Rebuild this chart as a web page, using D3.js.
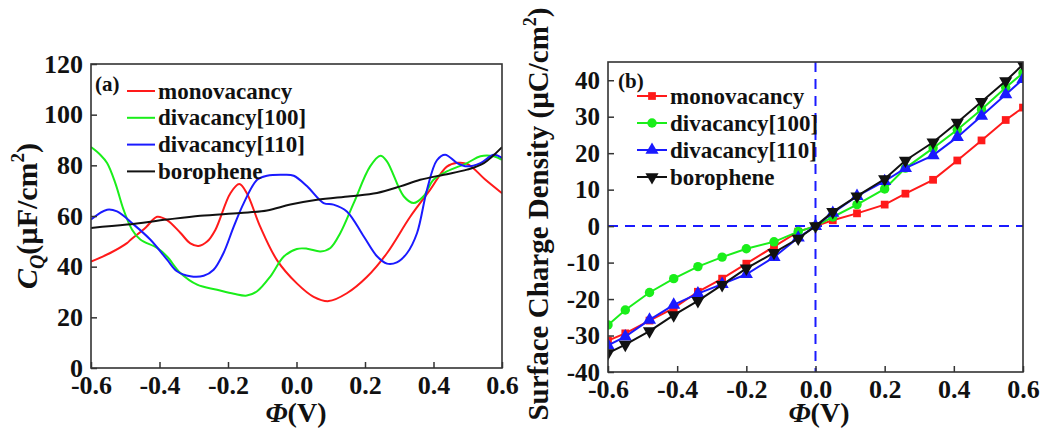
<!DOCTYPE html>
<html>
<head>
<meta charset="utf-8">
<script src="https://cdn.jsdelivr.net/npm/d3@7"></script>
<style>
  body { margin: 0; background: #fff; }
  text { font-family: "Liberation Serif", "Times New Roman", serif; font-weight: bold; fill: #111; }
</style>
</head>
<body>
<div id="chart"></div>
<script>
// Define SVG area dimensions
var svgWidth = 1047;
var svgHeight = 429;

// ---- data: panel (a) quantum capacitance ----
var seriesNames = ["monovacancy", "divacancy[100]", "divacancy[110]", "borophene"];
var seriesColors = ["#ff1a1a", "#1aee1a", "#1a1aff", "#111111"];

var monoA = [[-0.6,42],[-0.544,45.4],[-0.495,49.3],[-0.485,50.5],[-0.44,55.5],[-0.407,59.7],[-0.378,58.4],[-0.34,53.5],[-0.31,49.2],[-0.286,48.2],[-0.261,49.9],[-0.237,54.5],[-0.193,69],[-0.167,72.6],[-0.145,69],[-0.106,55.8],[-0.057,42.6],[0.001,33.4],[0.05,28.1],[0.094,26.4],[0.147,29.5],[0.206,36],[0.264,45.3],[0.332,59.7],[0.39,70.3],[0.439,79.5],[0.47,81],[0.5,80.5],[0.55,74.5],[0.6,69]];
var di100A = [[-0.6,87.2],[-0.573,84.2],[-0.553,80.9],[-0.529,73],[-0.505,62.5],[-0.48,54.6],[-0.456,50.7],[-0.407,47.4],[-0.378,44],[-0.339,37.5],[-0.29,32.9],[-0.232,30.9],[-0.183,29.3],[-0.145,28.6],[-0.115,30.3],[-0.076,36.2],[-0.037,44],[0.001,47],[0.031,47.1],[0.07,46],[0.099,47.4],[0.128,53.3],[0.167,65.1],[0.215,79.6],[0.245,83.8],[0.264,81.6],[0.313,67.8],[0.342,65.1],[0.371,67.8],[0.4,74.3],[0.439,77.6],[0.498,80.9],[0.537,83.6],[0.576,83.6],[0.6,82.2]];
var di110A = [[-0.6,58.6],[-0.553,62.5],[-0.524,61.8],[-0.475,56.6],[-0.427,50.7],[-0.378,42.8],[-0.349,38.2],[-0.31,36.2],[-0.271,36.4],[-0.242,38.8],[-0.213,45.4],[-0.183,55.9],[-0.154,65.1],[-0.115,74.3],[-0.086,75.9],[-0.037,76.3],[-0.008,75.9],[0.031,71.7],[0.079,65.1],[0.108,64.5],[0.147,61.8],[0.196,52],[0.235,44.1],[0.264,41.2],[0.293,41.7],[0.323,45.4],[0.352,53.3],[0.381,70.4],[0.41,82],[0.434,84.2],[0.469,80.9],[0.498,79.6],[0.537,80.9],[0.576,84.2],[0.6,82.9]];
var boroA = [[-0.6,55.3],[-0.495,56.6],[-0.378,58.6],[-0.281,60.1],[-0.164,61.2],[-0.086,62.2],[-0.018,64.5],[0.06,66.4],[0.157,67.8],[0.235,69.1],[0.303,71.7],[0.361,74.3],[0.43,76.3],[0.498,78.3],[0.547,80.9],[0.6,87.2]];

// ---- data: panel (b) surface charge density ----
var phiB = [-0.6,-0.55,-0.48,-0.41,-0.34,-0.27,-0.2,-0.12,-0.05,0,0.05,0.12,0.2,0.26,0.34,0.41,0.48,0.55,0.6];
var monoB = [-31.4,-29.4,-25.9,-22.5,-18,-14.4,-10.3,-5.6,-1.5,0,1.6,3.5,5.9,8.9,12.7,18,23.5,29.1,32.5];
var di100B = [-27.1,-23,-18.2,-14.4,-11.1,-8.5,-6.2,-4.3,-1.5,0,2.5,5.9,10.2,15.9,21.4,26.4,32,38,42];
var di110B = [-32.7,-30.3,-25.7,-21.6,-18.5,-15.9,-13.2,-8.5,-3.2,0,3.6,8.2,12.3,15.9,19.4,24.4,30.2,36.1,40.3];
var boroB = [-34.8,-32.5,-28.8,-24.4,-20.5,-16.1,-11.6,-7.3,-3.4,0,3.9,8.2,12.9,18,23,28.4,34.1,39.8,44.3];

// tick values
var xTicks = [-0.6,-0.4,-0.2,0,0.2,0.4,0.6];
var yTicksA = [0,20,40,60,80,100,120];
var yTicksB = [-40,-30,-20,-10,0,10,20,30,40];

var svg = d3.select("#chart")
  .append("svg")
  .attr("width", svgWidth)
  .attr("height", svgHeight)
  .style("background", "#fff");

var fmtX = d => d.toFixed(1);
var fmtY = d => String(d);

// frame + axes helper
function drawAxes(x, y, yTicks, ySize) {
  var x0 = x.range()[0], x1 = x.range()[1];
  var y0 = y.range()[0], y1 = y.range()[1];

  var gx = svg.append("g")
    .attr("transform", `translate(0, ${y0})`)
    .call(d3.axisBottom(x).tickValues(xTicks).tickFormat(fmtX).tickSizeInner(-6).tickSizeOuter(0).tickPadding(8));
  var gy = svg.append("g")
    .attr("transform", `translate(${x0}, 0)`)
    .call(d3.axisLeft(y).tickValues(yTicks).tickFormat(fmtY).tickSizeInner(-6).tickSizeOuter(0).tickPadding(8));

  [gx, gy].forEach(function(g) {
    g.select(".domain").remove();
    g.selectAll(".tick line").attr("stroke", "#333").attr("stroke-width", 1.5);
    g.selectAll(".tick text")
      .attr("font-family", "Liberation Serif, Times New Roman, serif")
      .attr("font-weight", "bold")
      .attr("fill", "#111");
  });
  gx.selectAll(".tick text").attr("font-size", 26).attr("dy", "0.71em");
  gy.selectAll(".tick text").attr("font-size", ySize);

  svg.append("rect")
    .attr("x", x0).attr("y", y1)
    .attr("width", x1 - x0).attr("height", y0 - y1)
    .attr("fill", "none").attr("stroke", "#333").attr("stroke-width", 1.6);
}

function phiTitle(cx, ty) {
  var t = svg.append("text")
    .attr("x", cx).attr("y", ty)
    .attr("text-anchor", "middle")
    .attr("font-size", 28);
  t.append("tspan").attr("font-style", "italic").text("Φ");
  t.append("tspan").text("(V)");
}

// ===== panel (a) =====
var xA = d3.scaleLinear().domain([-0.6, 0.6]).range([91, 502]);
var yA = d3.scaleLinear().domain([0, 120]).range([368, 64]);

svg.append("clipPath").attr("id", "clipA")
  .append("rect").attr("x", 91).attr("y", 64).attr("width", 411).attr("height", 304);

var lineA = d3.line()
  .x(d => xA(d[0]))
  .y(d => yA(d[1]))
  .curve(d3.curveCatmullRom.alpha(0.5));

[monoA, di100A, di110A, boroA].forEach(function(data, i) {
  svg.append("path")
    .datum(data)
    .attr("clip-path", "url(#clipA)")
    .attr("fill", "none")
    .attr("stroke", seriesColors[i])
    .attr("stroke-width", 2)
    .attr("d", lineA);
});

drawAxes(xA, yA, yTicksA, 26);
phiTitle(296, 422);

// y title (a)
var ytA = svg.append("text")
  .attr("transform", "translate(37, 216) rotate(-90)")
  .attr("text-anchor", "middle")
  .attr("font-size", 30);
ytA.append("tspan").attr("font-style", "italic").text("C");
ytA.append("tspan").attr("font-style", "italic").attr("font-size", 20).attr("dy", 7).text("Q");
ytA.append("tspan").attr("dy", -7).text("(µF/cm");
ytA.append("tspan").attr("font-size", 19).attr("dy", -13).text("2");
ytA.append("tspan").attr("dy", 13).text(")");

// legend (a)
svg.append("text").attr("x", 95).attr("y", 91).attr("font-size", 21).text("(a)");
seriesNames.forEach(function(name, i) {
  var ly = 91 + i * 26.8;
  svg.append("line")
    .attr("x1", 127).attr("x2", 155).attr("y1", ly).attr("y2", ly)
    .attr("stroke", seriesColors[i]).attr("stroke-width", 2);
  svg.append("text")
    .attr("x", 158).attr("y", ly).attr("dy", "0.33em")
    .attr("font-size", 23).text(name);
});

// ===== panel (b) =====
var xB = d3.scaleLinear().domain([-0.6, 0.6]).range([608, 1023]);
var yB = d3.scaleLinear().domain([-40, 45]).range([372, 62]);

// dashed reference lines
svg.append("line")
  .attr("x1", xB(0)).attr("x2", xB(0)).attr("y1", yB(45)).attr("y2", yB(-40))
  .attr("stroke", "#1a1aff").attr("stroke-width", 2).attr("stroke-dasharray", "10,7");
svg.append("line")
  .attr("x1", xB(-0.6)).attr("x2", xB(0.6)).attr("y1", yB(0)).attr("y2", yB(0))
  .attr("stroke", "#1a1aff").attr("stroke-width", 2).attr("stroke-dasharray", "10,7");

var symbols = [d3.symbolSquare, d3.symbolCircle, d3.symbolTriangle, d3.symbolTriangle];
var symSizes = [60, 70, 75, 75];
var symRot = [0, 0, 0, 180];

function marker(g, i, cx, cy) {
  g.append("path")
    .attr("d", d3.symbol().type(symbols[i]).size(symSizes[i])())
    .attr("transform", `translate(${cx}, ${cy}) rotate(${symRot[i]})`)
    .attr("fill", seriesColors[i]);
}

var lineB = d3.line()
  .x(d => xB(d[0]))
  .y(d => yB(d[1]));

svg.append("clipPath").attr("id", "clipB")
  .append("rect").attr("x", 608).attr("y", 62).attr("width", 415).attr("height", 310);

[monoB, di100B, di110B, boroB].forEach(function(vals, i) {
  var pts = phiB.map((p, j) => [p, vals[j]]);
  var g = svg.append("g").attr("clip-path", "url(#clipB)");
  g.append("path")
    .datum(pts)
    .attr("fill", "none")
    .attr("stroke", seriesColors[i])
    .attr("stroke-width", 2)
    .attr("d", lineB);
  pts.forEach(function(d) { marker(g, i, xB(d[0]), yB(d[1])); });
});

drawAxes(xB, yB, yTicksB, 25);
phiTitle(819, 422);

// y title (b)
var ytB = svg.append("text")
  .attr("transform", "translate(548, 214) rotate(-90)")
  .attr("text-anchor", "middle")
  .attr("font-size", 29);
ytB.append("tspan").text("Surface Charge Density (µC/cm");
ytB.append("tspan").attr("font-size", 18).attr("dy", -12).text("2");
ytB.append("tspan").attr("dy", 12).text(")");

// legend (b)
svg.append("text").attr("x", 618).attr("y", 88).attr("font-size", 21).text("(b)");
seriesNames.forEach(function(name, i) {
  var ly = 96 + i * 27;
  svg.append("line")
    .attr("x1", 637).attr("x2", 667).attr("y1", ly).attr("y2", ly)
    .attr("stroke", seriesColors[i]).attr("stroke-width", 2);
  var lg = svg.append("g");
  marker(lg, i, 652, ly);
  svg.append("text")
    .attr("x", 670).attr("y", ly).attr("dy", "0.33em")
    .attr("font-size", 23).text(name);
});
</script>
</body>
</html>
